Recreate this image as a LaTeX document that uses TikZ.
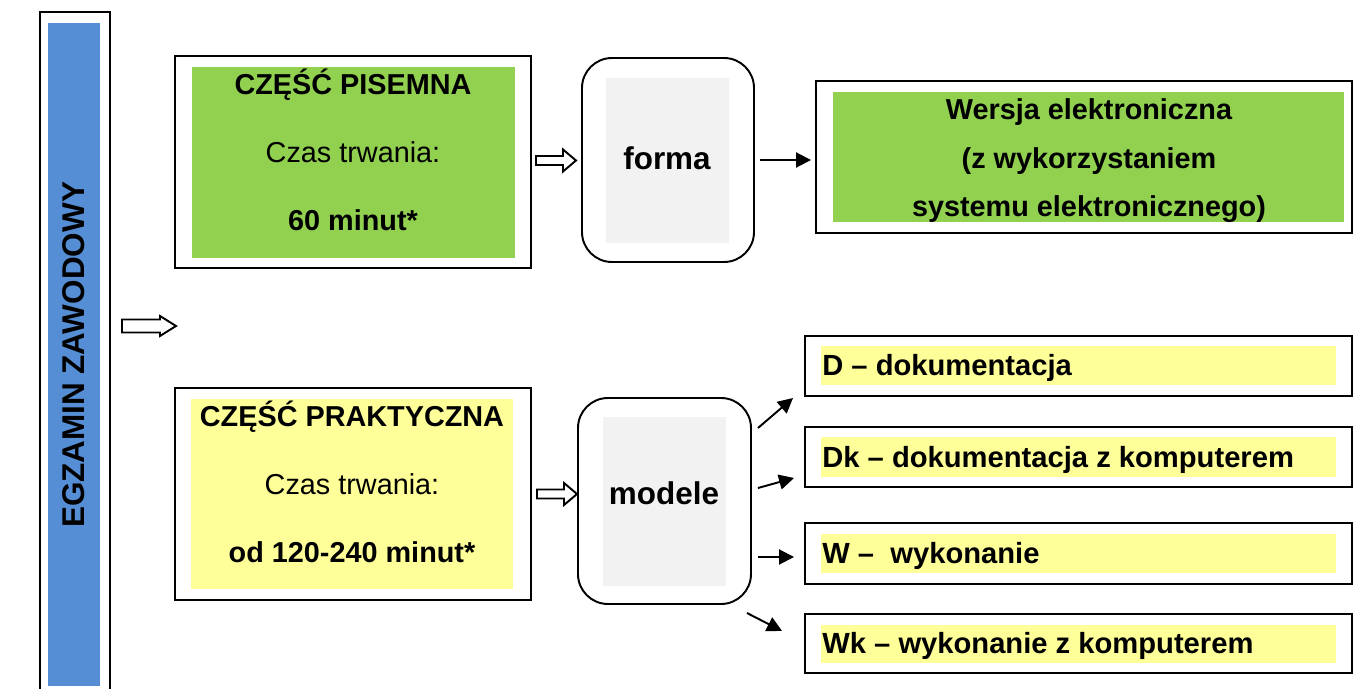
\documentclass[tikz,border=0pt]{standalone}
\usepackage{fontspec}
\setmainfont{Liberation Sans}
\usetikzlibrary{arrows.meta,fit}

\definecolor{egzblue}{RGB}{85,142,213}
\definecolor{pisgreen}{RGB}{146,208,80}
\definecolor{praktyellow}{RGB}{255,255,153}
\definecolor{formagray}{RGB}{242,242,242}

\tikzset{
  outerbox/.style={draw=black, line width=1.1pt, inner sep=0pt},
  roundbox/.style={outerbox, rounded corners=0.6cm},
  fillbox/.style={inner sep=0pt, fill=#1},
  mtxt/.style={inner sep=0pt, font=\fontsize{16.4}{19.7}\selectfont},
  itemtxt/.style={inner sep=0pt, anchor=west, font=\fontsize{16.6}{19.9}\selectfont\bfseries},
  btxt/.style={inner sep=0pt, font=\fontsize{17.9}{21.5}\selectfont\bfseries},
  conn/.style={-{Triangle[length=0.3cm,width=0.3cm]}, line width=1.1pt},
  hollow/.style={draw=black, line width=1.1pt, fill=white, line join=miter}
}

\begin{document}
\begin{tikzpicture}[x=0.02cm, y=-0.02cm]
  \clip (0,0) rectangle (1353,689);

  % Draw the vertical title box
  \node[outerbox, fit={(40,12) (110,700)}] (egz) {};
  \node[fillbox=egzblue, fit={(48,23) (100,686)}] (egzFill) {};
  \node[btxt, rotate=90] (egzTxt) at (74,355) {EGZAMIN ZAWODOWY};

  \draw[hollow] (122,319.5) -- (160,319.5) -- (160,316) -- (176,326) -- (160,336) -- (160,332.5) -- (122,332.5) -- cycle;

  % written part
  \node[outerbox, fit={(175,56) (531,268)}] (pisemna) {};
  \node[fillbox=pisgreen, fit={(192,67) (515,258)}] (pisemnaFill) {};
  \node[mtxt, align=center, font=\fontsize{16.4}{38.6}\selectfont] (pisemnaTxt) at (353,150)
    {\textbf{CZĘŚĆ PISEMNA}\\Czas trwania:\\\textbf{60 minut*}};

  \draw[hollow] (536,156) -- (563,156) -- (563,149.5) -- (576,160.5) -- (563,171.5) -- (563,165) -- (536,165) -- cycle;

  \node[roundbox, fit={(582,58) (754,262)}] (forma) {};
  \node[fillbox=formagray, fit={(606,78) (729,243)}] (formaFill) {};
  \node[btxt] (formaTxt) at (667,158) {forma};

  \node[outerbox, fit={(816,81) (1352,233)}] (wersja) {};
  \node[fillbox=pisgreen, fit={(833,92) (1344,222)}] (wersjaFill) {};
  \node[mtxt, align=center, font=\fontsize{16.4}{27.6}\selectfont\bfseries] (wersjaTxt) at (1089,161)
    {Wersja elektroniczna\\(z wykorzystaniem\\systemu elektronicznego)};

  \draw[conn, shorten <=0.1cm, shorten >=0.08cm] (forma.east) -- (forma.east -| wersja.west);

  % practical part
  \node[outerbox, fit={(175,388) (531,600)}] (praktyczna) {};
  \node[fillbox=praktyellow, fit={(191,399) (513,589)}] (praktycznaFill) {};
  \node[mtxt, align=center, font=\fontsize{16.4}{38.6}\selectfont] (praktycznaTxt) at (352,482)
    {\textbf{CZĘŚĆ PRAKTYCZNA}\\Czas trwania:\\\textbf{od 120-240 minut*}};

  \draw[hollow] (537,489.5) -- (564,489.5) -- (564,483) -- (577,494) -- (564,505) -- (564,498.5) -- (537,498.5) -- cycle;

  \node[roundbox, fit={(578,398) (751,604)}] (modele) {};
  \node[fillbox=formagray, fit={(603,417) (726,586)}] (modeleFill) {};
  \node[btxt] (modeleTxt) at (664,493) {modele};

  % the four models
  \node[outerbox, fit={(805,336) (1352,396)}] (mD) {};
  \node[fillbox=praktyellow, fit={(821,346) (1336,385)}] (mDFill) {};
  \node[itemtxt] (mDTxt) at (822,368) {D – dokumentacja};

  \node[outerbox, fit={(805,427) (1352,487)}] (mDk) {};
  \node[fillbox=praktyellow, fit={(821,437) (1336,477)}] (mDkFill) {};
  \node[itemtxt] (mDkTxt) at (822,460) {Dk – dokumentacja z komputerem};

  \node[outerbox, fit={(805,523) (1352,584)}] (mW) {};
  \node[fillbox=praktyellow, fit={(821,534) (1336,573)}] (mWFill) {};
  \node[itemtxt] (mWTxt) at (822,556) {W –\ \ wykonanie};

  \node[outerbox, fit={(805,614) (1352,673)}] (mWk) {};
  \node[fillbox=praktyellow, fit={(821,625) (1336,663)}] (mWkFill) {};
  \node[itemtxt] (mWkTxt) at (822,646) {Wk – wykonanie z komputerem};

  \draw[conn] ([shift={(6,-73)}]modele.east) -- ([shift={(-11,32)}]mD.west);
  \draw[conn] ([shift={(6,-13)}]modele.east) -- ([shift={(-10,21)}]mDk.west);
  \draw[conn] ([shift={(6,56)}]modele.east) -- ([shift={(-10,3.5)}]mW.west);
  \draw[conn] ([shift={(-5,112)}]modele.east) -- ([shift={(-22,-12.5)}]mWk.west);

\end{tikzpicture}
\end{document}
